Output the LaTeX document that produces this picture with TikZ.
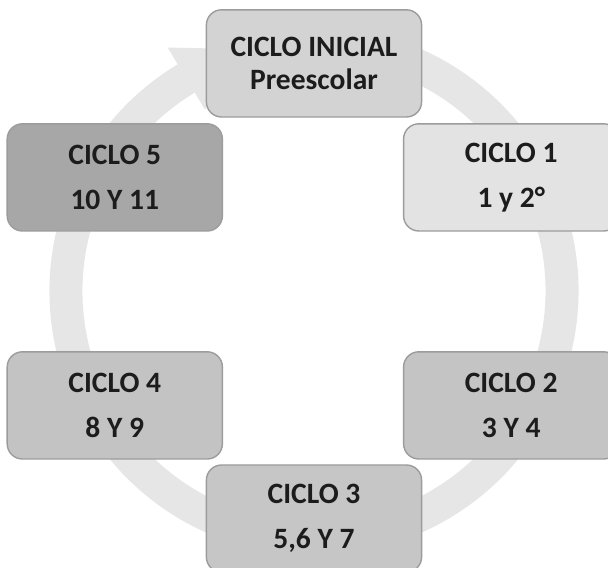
\documentclass[tikz,border=0pt]{standalone}
\usepackage{fontspec}
\setmainfont{Carlito}
\usepackage{tikz}
\usetikzlibrary{positioning}
\usepackage{xcolor}
\definecolor{ring}{HTML}{E6E6E6}
\definecolor{edge}{HTML}{9C9C9C}
\definecolor{ink}{HTML}{1C1C1C}
\definecolor{inicial}{HTML}{D3D3D3}
\definecolor{uno}{HTML}{E3E3E3}
\definecolor{dos}{HTML}{C4C4C4}
\definecolor{tres}{HTML}{C6C6C6}
\definecolor{cuatro}{HTML}{C3C3C3}
\definecolor{cinco}{HTML}{A7A7A7}

\tikzset{
    ciclo/.style={draw=edge,line width=1pt,rounded corners=0.38cm,
        minimum width=5.38cm,minimum height=2.68cm,align=center,
        text=ink,font=\fontsize{21}{32}\selectfont\bfseries}
}

\begin{document}
\begin{tikzpicture}
    % page frame
    \path[use as bounding box,clip] (-7.85,-6.925) rectangle (7.35,7.275);
    \fill[white] (-7.85,-6.925) rectangle (7.35,7.275);

    % cycle arrow behind the boxes
    \draw[ring,line width=0.825cm] (75:6.2) arc[start angle=75,end angle=-239,radius=6.2];
    \fill[ring] (121:7.1) -- (121:5.3) -- (103:6.2) -- cycle;

    % top box
    \node[ciclo,fill=inicial,font=\fontsize{21}{23}\selectfont\bfseries] (inicial) at (0,5.69) {CICLO INICIAL\\Preescolar};

    % right side
    \node[ciclo,fill=uno] (ciclo1) at (4.93,2.84) {CICLO 1\\1 y 2°};
    \node[ciclo,fill=dos] (ciclo2) at (4.93,-2.86) {CICLO 2\\3 Y 4};

    % bottom box
    \node[ciclo,fill=tres] (ciclo3) at (0,-5.69) {CICLO 3\\5,6 Y 7};

    % left side
    \node[ciclo,fill=cuatro] (ciclo4) at (-4.98,-2.86) {CICLO 4\\8 Y 9};
    \node[ciclo,fill=cinco] (ciclo5) at (-4.98,2.84) {CICLO 5\\10 Y 11};
\end{tikzpicture}
\end{document}
